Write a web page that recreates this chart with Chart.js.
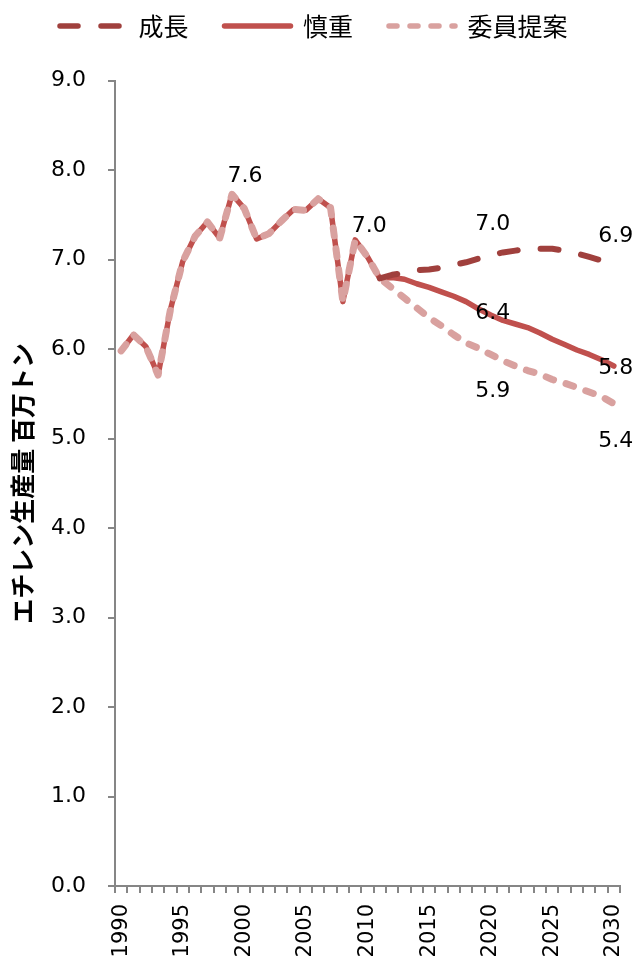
<!DOCTYPE html>
<html>
<head>
<meta charset="utf-8">
<script src="https://cdn.jsdelivr.net/npm/chart.js@4.4.0/dist/chart.umd.min.js"></script>
<style>
  html, body { margin: 0; padding: 0; background: #fff; }
</style>
</head>
<body>
<canvas id="chart" width="637" height="958"></canvas>
<script>
// 年 (1990-2030)
const years = [1990, 1991, 1992, 1993, 1994, 1995, 1996, 1997, 1998, 1999,
  2000, 2001, 2002, 2003, 2004, 2005, 2006, 2007, 2008, 2009,
  2010, 2011, 2012, 2013, 2014, 2015, 2016, 2017, 2018, 2019,
  2020, 2021, 2022, 2023, 2024, 2025, 2026, 2027, 2028, 2029, 2030];

// 実績 1990-2011
const history = [5.98, 6.16, 6.03, 5.71, 6.44, 6.98, 7.26, 7.42, 7.24, 7.73,
  7.57, 7.23, 7.29, 7.43, 7.56, 7.55, 7.68, 7.58, 6.53, 7.22,
  7.03, 6.79];

// 成長 2011-2030
const growth = [6.79, 6.83, 6.85, 6.88, 6.89, 6.91, 6.94, 6.97, 7.01, 7.05,
  7.08, 7.10, 7.12, 7.12, 7.12, 7.10, 7.07, 7.03, 6.99, 6.93];

// 慎重 2012-2030
const cautious = [6.80, 6.78, 6.73, 6.69, 6.64, 6.59, 6.53, 6.45, 6.38, 6.32,
  6.28, 6.24, 6.18, 6.11, 6.05, 5.99, 5.94, 5.88, 5.81];

// 委員提案 2012-2030
const proposal = [6.68, 6.57, 6.46, 6.35, 6.26, 6.16, 6.07, 6.01, 5.94, 5.87,
  5.81, 5.76, 5.72, 5.66, 5.62, 5.57, 5.52, 5.47, 5.39];

const yTicks = [0, 1, 2, 3, 4, 5, 6, 7, 8, 9];
const xLabelYears = [1990, 1995, 2000, 2005, 2010, 2015, 2020, 2025, 2030];

// 数値ラベル
const noteYears = [1999, 2009, 2020, 2030, 2020, 2030, 2020, 2030];
const noteSeries = [1, 1, 0, 0, 1, 1, 2, 2];
const noteTexts = ["7.6", "7.0", "7.0", "6.9", "6.4", "5.8", "5.9", "5.4"];
const noteShift = [[13, -18], [14, -14], [2, -31], [2, -30], [2, -2], [2, 2], [2, 37], [2, 38]];

const growthData = new Array(history.length - 1).fill(null).concat(growth);
const cautiousData = history.concat(cautious);
const proposalData = history.concat(proposal);

const noteLabels = {
  id: "noteLabels",
  afterDatasetsDraw(chart) {
    const ctx = chart.ctx;
    ctx.save();
    ctx.font = "22px 'DejaVu Sans'";
    ctx.fillStyle = "#000";
    ctx.textAlign = "center";
    ctx.textBaseline = "middle";
    noteTexts.forEach((t, i) => {
      const meta = chart.getDatasetMeta(noteSeries[i]);
      const pt = meta.data[years.indexOf(noteYears[i])];
      ctx.fillText(t, pt.x + noteShift[i][0], pt.y + noteShift[i][1]);
    });
    ctx.restore();
  }
};

new Chart(document.getElementById("chart"), {
  type: "line",
  data: {
    labels: years,
    datasets: [
      {
        label: "成長",
        data: growthData,
        borderColor: "#A0403D",
        borderWidth: 6,
        borderDash: [18, 23],
        borderCapStyle: "round",
        borderJoinStyle: "round",
        pointRadius: 0,
        order: 0
      },
      {
        label: "慎重",
        data: cautiousData,
        borderColor: "#C0504D",
        borderWidth: 5.5,
        borderCapStyle: "round",
        borderJoinStyle: "round",
        pointRadius: 0,
        order: 2
      },
      {
        label: "委員提案",
        data: proposalData,
        borderColor: "#D9A19F",
        borderWidth: 7,
        borderDash: [8, 13],
        borderCapStyle: "round",
        borderJoinStyle: "round",
        pointRadius: 0,
        order: 1
      }
    ]
  },
  options: {
    responsive: false,
    animation: false,
    layout: { padding: { left: 24, right: 17, top: -22.5, bottom: 0 } },
    plugins: {
      legend: {
        position: "top",
        align: "start",
        labels: {
          usePointStyle: true,
          pointStyle: "line",
          pointStyleWidth: 66,
          padding: 36,
          color: "#000",
          font: { family: "'Noto Sans CJK JP'", size: 25 },
          sort: (a, b) => a.datasetIndex - b.datasetIndex,
          generateLabels: chart =>
            Chart.defaults.plugins.legend.labels.generateLabels(chart).map(item => {
              const ds = chart.data.datasets[item.datasetIndex];
              item.lineDash = ds.borderDash || [];
              item.lineWidth = 5.5;
              item.lineCap = "round";
              item.strokeStyle = ds.borderColor;
              return item;
            })
        }
      },
      // 凡例とグラフの間の余白
      title: { display: true, text: "", weight: 100, padding: { top: 0, bottom: 17.7 } },
      tooltip: { enabled: false }
    },
    scales: {
      x: {
        type: "category",
        offset: true,
        grid: {
          offset: true,
          drawOnChartArea: false,
          color: "#868686",
          lineWidth: 2,
          tickLength: 7
        },
        border: { color: "#868686", width: 2 },
        ticks: {
          autoSkip: false,
          minRotation: 90,
          maxRotation: 90,
          padding: 11,
          color: "#000",
          font: { family: "'DejaVu Sans'", size: 21 },
          callback: function (v, i) {
            return xLabelYears.includes(years[i]) ? String(years[i]) : "";
          }
        },
        afterFit: s => { s.height = 72; s.paddingLeft = 0; s.paddingRight = 0; }
      },
      y: {
        min: 0,
        max: 9,
        grid: {
          drawOnChartArea: false,
          color: "#868686",
          lineWidth: 2,
          tickLength: 7
        },
        border: { color: "#868686", width: 2 },
        afterBuildTicks: s => { s.ticks = yTicks.map(v => ({ value: v })); },
        ticks: {
          padding: 22,
          color: "#000",
          font: { family: "'DejaVu Sans'", size: 22 },
          callback: v => v.toFixed(1)
        },
        title: {
          display: true,
          text: "エチレン生産量 百万トン",
          color: "#000",
          padding: { top: -17, bottom: 0 },
          font: { family: "'Noto Sans CJK JP'", size: 25, weight: "bold" }
        },
        afterFit: s => { s.width = 91; }
      }
    }
  },
  plugins: [noteLabels]
});
</script>
</body>
</html>
